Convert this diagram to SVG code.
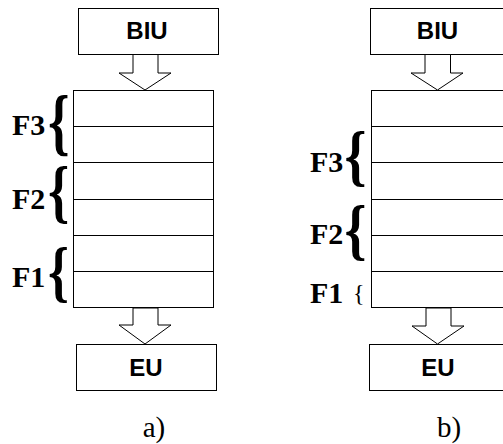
<svg xmlns="http://www.w3.org/2000/svg" width="503" height="444" viewBox="0 0 503 444">
  <style>
    .box { fill: #ffffff; stroke: #000000; stroke-width: 1; }
    .row { stroke: #000000; stroke-width: 1; }
    .arrow { fill: #ffffff; stroke: #000000; stroke-width: 1; stroke-linejoin: miter; }
    .unit { font-family: "Liberation Sans", Arial, sans-serif; font-weight: bold; font-size: 24px; text-anchor: middle; fill: #000000; }
    .stage { font-family: "Liberation Serif", "Times New Roman", serif; font-weight: bold; font-size: 30px; fill: #000000; }
    .brace { font-family: "Liberation Serif", "Times New Roman", serif; font-weight: bold; fill: #000000; }
    .thin { font-family: "Liberation Serif", "Times New Roman", serif; fill: #000000; }
    .caption { font-family: "Liberation Serif", "Times New Roman", serif; font-size: 29px; text-anchor: middle; fill: #000000; }
  </style>

  <!-- variant a: BIU, 6-entry queue, EU -->
  <g id="biu-a">
    <rect class="box" x="78.5" y="8.5" width="140" height="46"/>
    <text class="unit" x="147" y="39">BIU</text>
  </g>
  <g id="queue-a">
    <rect class="box" x="73.5" y="90.5" width="140" height="217"/>
    <line class="row" x1="73.5" y1="126.5" x2="213.5" y2="126.5"/>
    <line class="row" x1="73.5" y1="162.5" x2="213.5" y2="162.5"/>
    <line class="row" x1="73.5" y1="199.5" x2="213.5" y2="199.5"/>
    <line class="row" x1="73.5" y1="235.5" x2="213.5" y2="235.5"/>
    <line class="row" x1="73.5" y1="271.5" x2="213.5" y2="271.5"/>
  </g>
  <g id="eu-a">
    <rect class="box" x="76.5" y="344.5" width="140" height="46"/>
    <text class="unit" x="146" y="376">EU</text>
  </g>
  <g id="labels-a">
    <text class="stage" x="12" y="135">F3</text>
    <text class="brace" font-size="74" transform="translate(48,147) scale(0.74,1)">{</text>
    <text class="stage" x="12" y="209">F2</text>
    <text class="brace" font-size="69" transform="translate(48,215) scale(0.78,1)">{</text>
    <text class="stage" x="12" y="287">F1</text>
    <text class="brace" font-size="68" transform="translate(48,293.5) scale(0.78,1)">{</text>
    <text class="caption" x="154" y="437">a)</text>
  </g>

  <!-- variant b: BIU, 6-entry queue, EU (right edge runs past the frame) -->
  <g id="biu-b">
    <rect class="box" x="370.5" y="8.5" width="140" height="46"/>
    <text class="unit" x="437.5" y="39">BIU</text>
  </g>
  <g id="queue-b">
    <rect class="box" x="371.5" y="90.5" width="140" height="217"/>
    <line class="row" x1="371.5" y1="126.5" x2="511.5" y2="126.5"/>
    <line class="row" x1="371.5" y1="162.5" x2="511.5" y2="162.5"/>
    <line class="row" x1="371.5" y1="199.5" x2="511.5" y2="199.5"/>
    <line class="row" x1="371.5" y1="235.5" x2="511.5" y2="235.5"/>
    <line class="row" x1="371.5" y1="271.5" x2="511.5" y2="271.5"/>
  </g>
  <g id="eu-b">
    <rect class="box" x="369.5" y="344.5" width="140" height="46"/>
    <text class="unit" x="438" y="376">EU</text>
  </g>
  <g id="labels-b">
    <text class="stage" x="310" y="172">F3</text>
    <text class="brace" font-size="68" transform="translate(344.5,177.5) scale(0.82,1)">{</text>
    <text class="stage" x="310" y="244">F2</text>
    <text class="brace" font-size="68" transform="translate(344.5,251.5) scale(0.82,1)">{</text>
    <text class="stage" x="310" y="303">F1</text>
    <text class="thin" font-size="24" x="353" y="301">{</text>
    <text class="caption" x="449" y="437">b)</text>
  </g>

  <!-- hollow block arrows between the units and the queues -->
  <g id="connectors">
    <polygon class="arrow" points="133,54.5 158,54.5 158,73 171,73 145,90 119,73 133,73"/>
    <polygon class="arrow" points="133,308 158,308 158,325 171,325 145,344 119,325 133,325"/>
    <polygon class="arrow" points="425,54.5 450.5,54.5 450.5,73 463,73 437.5,90 411,73 425,73"/>
    <polygon class="arrow" points="426,308 451,308 451,326 464,326 437.5,344 412,326 426,326"/>
  </g>
</svg>
